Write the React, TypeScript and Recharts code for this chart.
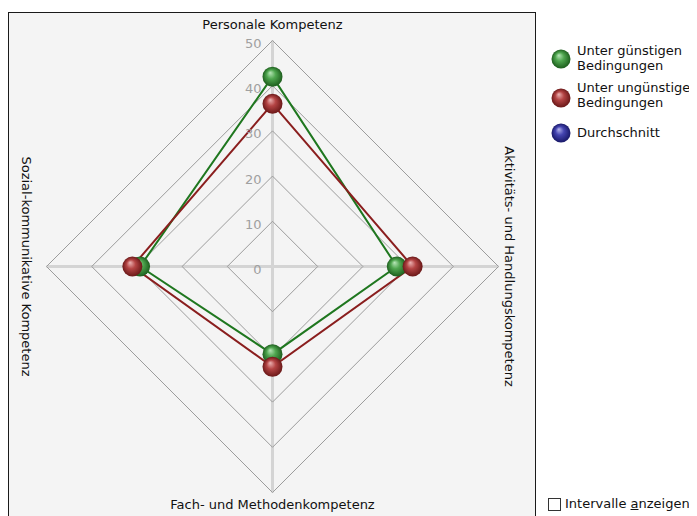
import React from 'react';
import { RadarChart, Radar, PolarGrid, PolarAngleAxis, PolarRadiusAxis } from 'recharts';

const categories = [
  'Personale Kompetenz',
  'Aktivitäts- und Handlungskompetenz',
  'Fach- und Methodenkompetenz',
  'Sozial-kommunikative Kompetenz',
];
const guenstigValues = [42, 27.5, 19.4, 29.3];
const unguenstigValues = [36, 31, 22.2, 31];
const radiusDomain = [0, 50];
const radiusTickCount = 6;
const legendLabels = [
  ['Unter günstigen', 'Bedingungen'],
  ['Unter ungünstigen', 'Bedingungen'],
  ['Durchschnitt'],
];

const data = categories.map((c, i) => ({
  category: c,
  guenstig: guenstigValues[i],
  unguenstig: unguenstigValues[i],
}));

const CX = 272.5;
const CY = 266.5;
const OUTER = 226;
const FONT = '"DejaVu Sans", Verdana, sans-serif';

const AngleTick = (props: any) => {
  const { payload } = props;
  const cx = props.cx ?? CX;
  const cy = props.cy ?? CY;
  const x = props.x;
  const y = props.y;
  const idx = typeof props.index === 'number' ? props.index : categories.indexOf(payload.value);
  const dx = x - cx;
  const dy = y - cy;
  const d = Math.hypot(dx, dy) || 1;
  const ux = dx / d;
  const uy = dy / d;
  const offsets = [16, 11, 12, 20];
  const off = OUTER + offsets[idx];
  const tx = cx + ux * off;
  const ty = cy + uy * off;
  const vertical = Math.abs(ux) > 0.5;
  return (
    <text
      x={tx}
      y={ty}
      textAnchor="middle"
      dominantBaseline="central"
      fontSize={13}
      fontFamily={FONT}
      fill="#111"
      transform={vertical ? `rotate(90 ${tx} ${ty})` : undefined}
    >
      {payload.value}
    </text>
  );
};

const RadiusTick = (props: any) => {
  const { x, y, payload } = props;
  return (
    <text
      x={x - 11}
      y={y + 3}
      textAnchor="end"
      dominantBaseline="central"
      fontSize={13}
      fontFamily={FONT}
      fill="#a0a0a0"
    >
      {payload.value}
    </text>
  );
};

const makeDot = (gradId: string) => (props: any) => (
  <circle key={`${gradId}-${props.index}`} cx={props.cx} cy={props.cy} r={10} fill={`url(#${gradId})`} />
);

const Gradients = () => (
  <svg width={0} height={0} style={{ position: 'absolute' }}>
    <defs>
      <radialGradient id="gGreen" cx="50%" cy="50%" r="50%" fx="38%" fy="30%">
        <stop offset="0%" stopColor="#b8e6b8" />
        <stop offset="45%" stopColor="#4fa64f" />
        <stop offset="100%" stopColor="#1d5e1d" />
      </radialGradient>
      <radialGradient id="gRed" cx="50%" cy="50%" r="50%" fx="38%" fy="30%">
        <stop offset="0%" stopColor="#ecb4b4" />
        <stop offset="45%" stopColor="#b44444" />
        <stop offset="100%" stopColor="#6a1818" />
      </radialGradient>
      <radialGradient id="gBlue" cx="50%" cy="50%" r="50%" fx="38%" fy="30%">
        <stop offset="0%" stopColor="#b4b4ec" />
        <stop offset="45%" stopColor="#4444b0" />
        <stop offset="100%" stopColor="#181868" />
      </radialGradient>
    </defs>
  </svg>
);

const legendGrads = ['gGreen', 'gRed', 'gBlue'];
const legendCircleY = [59, 98, 133];
const legendTextTop = [43, 80, 125];

export default function App() {
  return (
    <div style={{ position: 'relative', left: -8, top: -8, width: 697, height: 516, overflow: 'hidden', background: '#fff', fontFamily: FONT }}>
      <Gradients />
      <div
        style={{
          position: 'absolute',
          left: 8,
          top: 12,
          width: 526,
          height: 520,
          border: '1px solid #1a1a1a',
          background: '#f4f4f4',
        }}
      />
      <div style={{ position: 'absolute', left: 0, top: 0 }}>
        <RadarChart
          width={697}
          height={516}
          data={data}
          cx={CX}
          cy={CY}
          outerRadius={OUTER}
          startAngle={90}
          endAngle={-270}
          margin={{ top: 0, right: 0, bottom: 0, left: 0 }}
        >
          <PolarGrid gridType="polygon" polarRadius={[]} stroke="#f4f4f4" strokeWidth={1} />
          <PolarGrid gridType="polygon" polarRadius={[]} stroke="#d4d4d4" strokeWidth={3} />
          <PolarGrid gridType="polygon" radialLines={false} stroke="#9c9c9c" strokeWidth={1} />
          <PolarAngleAxis dataKey="category" tick={AngleTick} tickLine={false} axisLine={false} />
          <PolarRadiusAxis
            angle={90}
            domain={radiusDomain}
            tickCount={radiusTickCount}
            type="number"
            axisLine={false}
            tickLine={false}
            tick={RadiusTick}
          />
          <Radar
            dataKey="guenstig"
            stroke="#1f771f"
            strokeWidth={2}
            fill="none"
            fillOpacity={0}
            dot={makeDot('gGreen')}
            isAnimationActive={false}
          />
          <Radar
            dataKey="unguenstig"
            stroke="#8a1e1e"
            strokeWidth={2}
            fill="none"
            fillOpacity={0}
            dot={makeDot('gRed')}
            isAnimationActive={false}
          />
        </RadarChart>
      </div>
      {legendLabels.map((lines, i) => (
        <React.Fragment key={i}>
          <svg
            width={22}
            height={22}
            style={{ position: 'absolute', left: 550, top: legendCircleY[i] - 11 }}
          >
            <circle cx={11} cy={11} r={9.5} fill={`url(#${legendGrads[i]})`} />
          </svg>
          <div
            style={{
              position: 'absolute',
              left: 577,
              top: legendTextTop[i],
              fontSize: 13,
              lineHeight: '15px',
              color: '#111',
              whiteSpace: 'nowrap',
            }}
          >
            {lines.map((l, j) => (
              <div key={j}>{l}</div>
            ))}
          </div>
        </React.Fragment>
      ))}
      <div
        style={{
          position: 'absolute',
          left: 548,
          top: 498,
          width: 11,
          height: 11,
          border: '1px solid #333',
          background: '#fff',
        }}
      />
      <div
        style={{
          position: 'absolute',
          left: 565,
          top: 496,
          fontSize: 13,
          lineHeight: '16px',
          color: '#111',
          whiteSpace: 'nowrap',
        }}
      >
        Intervalle <span style={{ textDecoration: 'underline' }}>a</span>nzeigen
      </div>
    </div>
  );
}
